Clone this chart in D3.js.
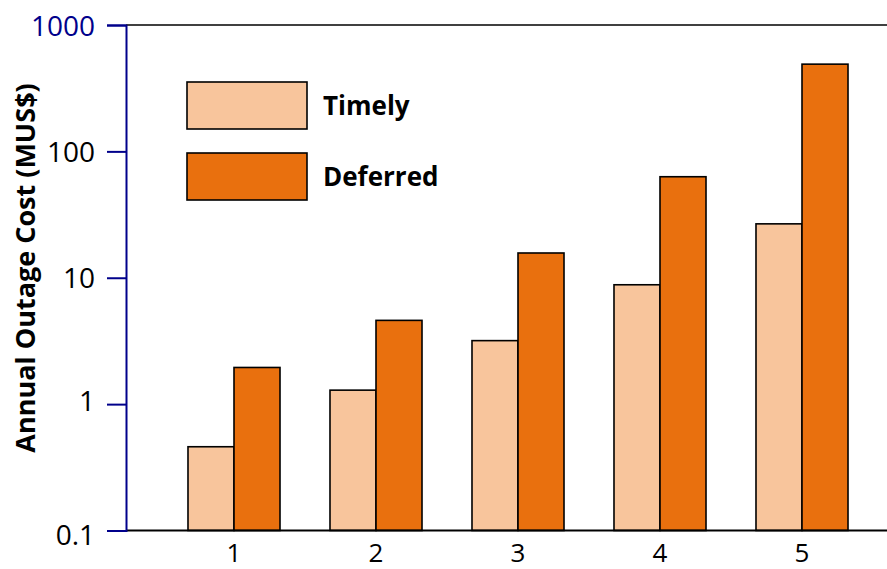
<!DOCTYPE html>
<html>
<head>
<meta charset="utf-8">
<script src="https://cdn.jsdelivr.net/npm/d3@7/dist/d3.min.js"></script>
<style>
  html, body { margin: 0; padding: 0; background: #fff; }
  svg { display: block; font-family: "Open Sans", "Lato", sans-serif; }
</style>
</head>
<body>
<svg id="chart" width="887" height="569"></svg>
<script>
// Annual outage cost per scenario, timely vs deferred action (MUS$)
const categories = ["1", "2", "3", "4", "5"];
const seriesNames = ["Timely", "Deferred"];
const timely = [0.46, 1.29, 3.18, 8.8, 26.7];
const deferred = [1.95, 4.6, 15.7, 63, 490];
const yTicks = [0.1, 1, 10, 100, 1000];
const yTickLabels = ["0.1", "1", "10", "100", "1000"];

const colors = { Timely: "#F8C59C", Deferred: "#E9700E" };
const navy = "#00008B";

const svg = d3.select("#chart");
const plotLeft = 126, plotRight = 887, plotTop = 25, plotBottom = 530.5;

const y = d3.scaleLog().domain([0.1, 1000]).range([plotBottom, plotTop]);
const x = d3.scaleBand().domain(categories)
  .range([163, 873]).paddingInner(0.352).paddingOuter(0.176);
const xs = d3.scaleBand().domain(seriesNames).range([0, x.bandwidth()]);

const rows = categories.map((c, i) => ({ cat: c, Timely: timely[i], Deferred: deferred[i] }));

// frame: top border line
svg.append("line")
  .attr("x1", plotLeft).attr("x2", plotRight).attr("y1", plotTop).attr("y2", plotTop)
  .attr("stroke", "#000").attr("stroke-width", 1.5);

// bars
const g = svg.append("g");
rows.forEach(r => {
  seriesNames.forEach(s => {
    g.append("rect")
      .attr("x", x(r.cat) + xs(s))
      .attr("y", y(r[s]))
      .attr("width", xs.bandwidth())
      .attr("height", y(0.1) - y(r[s]))
      .attr("fill", colors[s])
      .attr("stroke", "#000")
      .attr("stroke-width", 1.6);
  });
});

// x axis baseline and labels
svg.append("line")
  .attr("x1", plotLeft).attr("x2", plotRight).attr("y1", plotBottom).attr("y2", plotBottom)
  .attr("stroke", "#000").attr("stroke-width", 1.8);
svg.append("g").selectAll("text").data(categories).join("text")
  .attr("x", d => x(d) + x.bandwidth() / 2)
  .attr("y", 562)
  .attr("text-anchor", "middle")
  .attr("font-size", 26)
  .attr("fill", "#000")
  .text(d => d);

// y axis (navy) with outward ticks
const yAxis = d3.axisLeft(y)
  .tickValues(yTicks)
  .tickFormat((d, i) => yTickLabels[i])
  .tickSize(19)
  .tickPadding(12);
const ya = svg.append("g").attr("transform", `translate(${plotLeft},0)`).call(yAxis);
ya.select(".domain").attr("stroke", navy).attr("stroke-width", 2);
ya.selectAll(".tick line").attr("stroke", navy).attr("stroke-width", 2);
ya.selectAll(".tick text")
  .attr("font-size", 28)
  .attr("font-family", "'Open Sans', Lato, sans-serif")
  .attr("fill", d => d === 1000 ? navy : "#000")
  .attr("dy", d => d === 0.1 ? "0.5em" : (d === 1 ? "0.22em" : "0.36em"));

// y axis title
svg.append("text")
  .attr("transform", "translate(35,268) rotate(-90)")
  .attr("text-anchor", "middle")
  .attr("font-size", 27)
  .attr("font-weight", "bold")
  .attr("fill", "#000")
  .text("Annual Outage Cost (MUS$)");

// legend
const legend = svg.append("g");
seriesNames.forEach((s, i) => {
  const ly = 82 + i * 71;
  legend.append("rect")
    .attr("x", 187).attr("y", ly).attr("width", 120).attr("height", 47)
    .attr("fill", colors[s]).attr("stroke", "#000").attr("stroke-width", 1.6);
  legend.append("text")
    .attr("x", 323).attr("y", ly + 33)
    .attr("font-size", 26).attr("font-weight", "bold").attr("fill", "#000")
    .text(s);
});
</script>
</body>
</html>
